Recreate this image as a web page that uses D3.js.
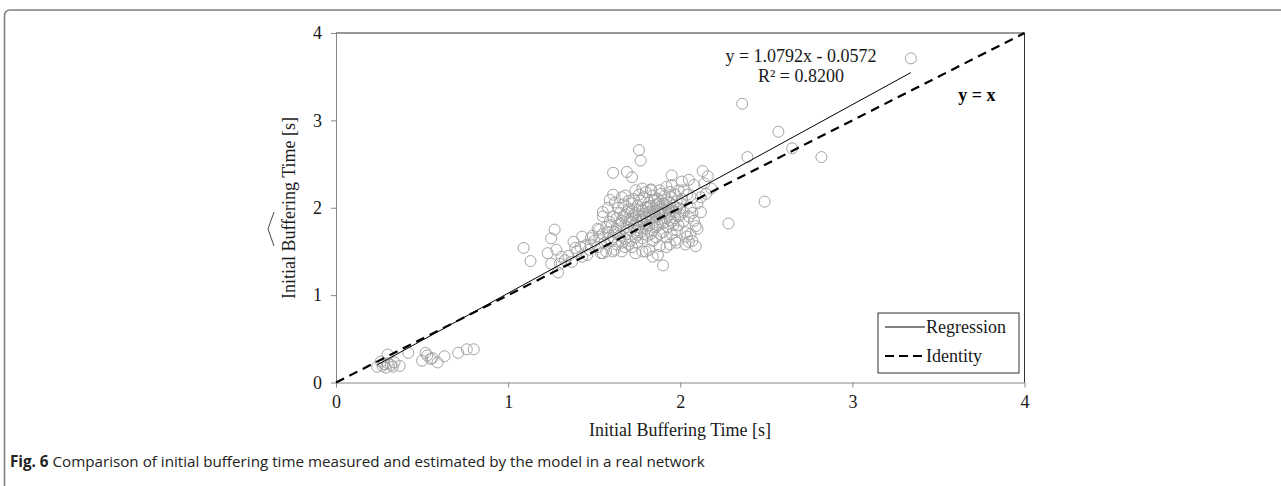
<!DOCTYPE html>
<html>
<head>
<meta charset="utf-8">
<script src="https://cdn.jsdelivr.net/npm/d3@7"></script>
<style>
  body { margin: 0; background: #fff; }
  svg { display: block; }
</style>
</head>
<body>
<div id="chart"></div>
<script>
"use strict"

// measured vs estimated initial buffering time [s]
let lowPoints = [
    [0.24,0.18],[0.27,0.19],[0.30,0.22],[0.32,0.20],[0.34,0.23],[0.37,0.19],[0.30,0.32],
    [0.28,0.21],[0.26,0.24],[0.33,0.18],[0.29,0.17],[0.42,0.34],[0.50,0.25],[0.52,0.34],
    [0.53,0.31],[0.55,0.27],[0.56,0.28],[0.59,0.23],[0.63,0.30],[0.71,0.34],[0.76,0.38],[0.80,0.38]
];

let outerPoints = [
    [3.34,3.71],[2.36,3.19],[2.57,2.87],[2.39,2.58],[2.65,2.68],[2.82,2.58],[2.49,2.07],[2.28,1.82],
    [1.09,1.54],[1.13,1.39],[1.27,1.75],[1.25,1.65],[1.23,1.48],[1.28,1.52],[1.25,1.36],[1.29,1.26],
    [1.31,1.44],[1.38,1.61],[1.39,1.54],[1.43,1.67],[1.42,1.55],[1.46,1.46],[1.48,1.65],[1.53,1.67],
    [1.52,1.76],[1.55,1.90],[1.55,1.48],[1.59,2.09],[1.61,2.15],[1.61,2.40],[1.69,2.41],[1.72,2.35],
    [1.76,2.66],[1.77,2.54],[1.78,2.22],[1.83,2.21],[1.95,2.37],[2.01,2.30],[2.05,2.32],[2.13,2.42],
    [2.16,2.36],[2.08,2.26],[2.15,2.16],[2.07,2.11],[2.07,1.94],[2.09,1.79],[2.09,1.56],[2.05,1.61],
    [2.04,1.67],[1.97,1.63],[1.92,1.55],[1.90,1.34],[1.87,1.46],[1.84,1.44],[1.80,1.50],[1.72,1.55],
    [1.66,1.50],[1.61,1.50],[1.75,1.69],
    [1.45,1.57],[1.47,1.52],[1.49,1.68],[1.54,1.48],[1.35,1.45],[1.37,1.38],[1.40,1.50],[1.33,1.40],
    [1.43,1.44],[1.48,1.58],[1.30,1.36],[1.55,1.95],[1.58,2.00],[1.62,2.06],[1.66,2.12],[1.70,2.08],
    [1.74,2.20],[1.68,2.14],[2.02,2.20],[2.04,2.15],[2.06,1.70],[2.07,1.62],[2.10,1.76],[2.12,1.95],
    [2.12,2.12],[2.14,2.28],[2.18,2.22],[2.03,1.58],[1.98,1.60],[1.94,1.58],[1.88,1.56],[1.82,1.52],
    [1.78,1.50],[1.74,1.48],[1.92,2.24],[1.95,2.26],[1.99,2.20]
];

let corePoints = [
    [1.62,1.72],[1.64,1.80],[1.65,1.68],[1.66,1.85],[1.67,1.76],[1.68,1.92],[1.69,1.70],[1.70,1.83],
    [1.70,1.98],[1.71,1.75],[1.72,1.88],[1.72,2.05],[1.73,1.79],[1.74,1.94],[1.74,1.66],[1.75,1.85],
    [1.75,2.02],[1.76,1.78],[1.76,1.91],[1.77,1.72],[1.77,2.08],[1.78,1.86],[1.78,1.97],[1.79,1.81],
    [1.79,2.12],[1.80,1.90],[1.80,1.76],[1.81,2.01],[1.81,1.84],[1.82,1.95],[1.82,2.06],[1.83,1.88],
    [1.83,1.70],[1.84,1.99],[1.84,2.14],[1.85,1.83],[1.85,1.93],[1.86,2.03],[1.86,1.78],[1.87,1.96],
    [1.87,2.10],[1.88,1.87],[1.88,2.01],[1.89,1.92],[1.89,2.16],[1.90,1.82],[1.90,2.05],[1.91,1.97],
    [1.92,2.09],[1.92,1.88],[1.93,2.00],[1.94,1.93],[1.95,2.12],[1.95,1.84],[1.96,2.03],[1.97,1.95],
    [1.98,2.07],[1.99,1.90],[2.00,1.99],[2.01,2.10],
    [1.60,1.62],[1.61,1.90],[1.63,1.58],[1.64,2.00],[1.66,1.60],[1.67,2.04],[1.68,1.64],[1.69,1.95],
    [1.71,1.62],[1.73,2.10],[1.75,1.60],[1.76,2.15],[1.78,1.65],[1.79,1.93],[1.80,2.18],[1.81,1.68],
    [1.83,2.20],[1.84,1.74],[1.86,1.66],[1.87,1.80],[1.88,2.20],[1.90,1.72],[1.91,2.14],[1.93,1.78],
    [1.94,2.18],[1.96,1.80],[1.97,2.15],[1.98,1.74],[2.00,2.05],[2.02,1.85],
    [1.55,1.70],[1.56,1.60],[1.57,1.78],[1.58,1.65],[1.59,1.84],[1.62,1.52],[1.63,1.88],[1.65,1.94],
    [1.68,1.55],[1.70,1.58],[1.72,1.96],[1.74,1.82],[1.77,1.84],[1.79,1.70],[1.82,1.80],[1.84,1.62],
    [1.85,2.08],[1.88,1.70],[1.89,1.84],[1.92,1.66],[1.94,1.86],[1.95,1.70],[1.97,1.88],[1.99,1.80],
    [2.02,1.95],[2.03,1.72],[2.05,1.90],[2.06,2.00],[2.08,1.85],[2.10,2.05],
    [1.50,1.62],[1.52,1.55],[1.53,1.75],[1.57,1.50],[1.58,1.72],[1.60,1.80],[1.61,1.66],[1.63,1.74],
    [1.65,1.82],[1.67,1.90],[1.69,1.78],[1.71,1.86],[1.73,1.92],[1.75,1.74],[1.76,1.98],[1.78,1.90],
    [1.80,2.00],[1.82,1.92],[1.83,2.02],[1.85,1.96],[1.86,1.90],[1.87,2.05],[1.89,1.98],[1.90,1.94],
    [1.91,2.04],[1.93,1.98],[1.94,2.06],[1.96,1.96],[1.98,2.00],[2.00,1.92]
];

let axisTicks = [0, 1, 2, 3, 4];
let regression = { slope: 1.0792, intercept: -0.0572 };
let equationLines = ["y = 1.0792x - 0.0572", "R\u00b2 = 0.8200"];
let legendLabels = ["Regression", "Identity"];
let captionBold = "Fig. 6";
let captionText = " Comparison of initial buffering time measured and estimated by the model in a real network";

let allPoints = lowPoints.concat(outerPoints, corePoints);

let width = 1281, height = 486;
let serif = "'Liberation Serif', 'Times New Roman', serif";
let fontSize = "18px";

let svg = d3.select("#chart").append("svg")
    .attr("width", width)
    .attr("height", height)
    .style("background", "#fff");

// page frame (top rule + left rule with rounded corner)
svg.append("path")
    .attr("d", "M4.5,486 L4.5,16 Q4.5,10 10.5,10 L1281,10")
    .attr("fill", "none")
    .attr("stroke", "#7f7f7f")
    .attr("stroke-width", 1.6);

let x = d3.scaleLinear().domain([0, 4]).range([336, 1024.5]);
let y = d3.scaleLinear().domain([0, 4]).range([382.5, 33]);

// plot border top/right
svg.append("path")
    .attr("d", "M" + x(0) + "," + y(4) + " L" + x(4) + "," + y(4) + " L" + x(4) + "," + y(0))
    .attr("fill", "none")
    .attr("stroke", "#333")
    .attr("stroke-width", 1);

let xAxis = d3.axisBottom(x).tickValues(axisTicks).tickSize(5).tickSizeOuter(0).tickPadding(8).tickFormat(d3.format("d"));
let yAxis = d3.axisLeft(y).tickValues(axisTicks).tickSize(5).tickSizeOuter(0).tickPadding(9).tickFormat(d3.format("d"));

let gx = svg.append("g").attr("transform", "translate(0," + y(0) + ")").call(xAxis);
let gy = svg.append("g").attr("transform", "translate(" + x(0) + ",0)").call(yAxis);
[gx, gy].forEach(function(g){
    g.select(".domain").attr("stroke", "#868686");
    g.selectAll(".tick line").attr("stroke", "#868686");
    g.selectAll("text")
        .attr("fill", "#1a1a1a")
        .style("font-family", serif)
        .style("font-size", fontSize);
});

// points
svg.append("g").selectAll("circle")
    .data(allPoints)
    .enter()
    .append("circle")
    .attr("cx", function(d){ return x(d[0]); })
    .attr("cy", function(d){ return y(d[1]); })
    .attr("r", 5.5)
    .attr("fill", "none")
    .attr("stroke", "#a3a3a3")
    .attr("stroke-width", 1);

// identity line
svg.append("line")
    .attr("x1", x(0)).attr("y1", y(0))
    .attr("x2", x(4)).attr("y2", y(4))
    .attr("stroke", "#000")
    .attr("stroke-width", 2.2)
    .attr("stroke-dasharray", "9,6");

// regression line across the measured range
let xExtent = d3.extent(allPoints, function(d){ return d[0]; });
svg.append("line")
    .attr("x1", x(xExtent[0])).attr("y1", y(regression.slope * xExtent[0] + regression.intercept))
    .attr("x2", x(xExtent[1])).attr("y2", y(regression.slope * xExtent[1] + regression.intercept))
    .attr("stroke", "#000")
    .attr("stroke-width", 1);

// equation
svg.append("g").selectAll("text")
    .data(equationLines)
    .enter()
    .append("text")
    .attr("x", 801)
    .attr("y", function(d, i){ return 62 + i * 20; })
    .attr("text-anchor", "middle")
    .style("font-family", serif)
    .style("font-size", fontSize)
    .attr("fill", "#1a1a1a")
    .text(function(d){ return d; });

svg.append("text")
    .attr("x", 977)
    .attr("y", 101)
    .attr("text-anchor", "middle")
    .style("font-family", serif)
    .style("font-size", fontSize)
    .style("font-weight", "bold")
    .text("y = x");

// legend
let legend = svg.append("g");
legend.append("rect")
    .attr("x", 878).attr("y", 313)
    .attr("width", 141).attr("height", 60)
    .attr("fill", "#fff")
    .attr("stroke", "#333")
    .attr("stroke-width", 1);
for(let i = 0; i < legendLabels.length; i++){
    let ly = 327 + i * 29;
    legend.append("line")
        .attr("x1", 885).attr("x2", 925)
        .attr("y1", ly).attr("y2", ly)
        .attr("stroke", "#000")
        .attr("stroke-width", i == 0 ? 1 : 2.2)
        .attr("stroke-dasharray", i == 0 ? null : "9,5");
    legend.append("text")
        .attr("x", 926)
        .attr("y", ly + 6)
        .style("font-family", serif)
        .style("font-size", fontSize)
        .attr("fill", "#1a1a1a")
        .text(legendLabels[i]);
}

// axis titles
svg.append("text")
    .attr("x", 680)
    .attr("y", 436)
    .attr("text-anchor", "middle")
    .style("font-family", serif)
    .style("font-size", fontSize)
    .attr("fill", "#1a1a1a")
    .text("Initial Buffering Time [s]");

let yTitle = svg.append("g").attr("transform", "translate(295,208) rotate(-90)");
yTitle.append("text")
    .attr("text-anchor", "middle")
    .style("font-family", serif)
    .style("font-size", fontSize)
    .attr("fill", "#1a1a1a")
    .text("Initial Buffering Time [s]");
// estimate hat over the label
yTitle.append("path")
    .attr("d", "M-38,-21 L-21,-27 L-4,-21")
    .attr("fill", "none")
    .attr("stroke", "#1a1a1a")
    .attr("stroke-width", 0.8);

// caption
let caption = svg.append("text")
    .attr("x", 10)
    .attr("y", 467)
    .style("font-family", "'Open Sans', 'Noto Sans', sans-serif")
    .style("font-size", "15.2px")
    .attr("fill", "#222");
caption.append("tspan").style("font-weight", "bold").text(captionBold);
caption.append("tspan").text(captionText);
</script>
</body>
</html>
